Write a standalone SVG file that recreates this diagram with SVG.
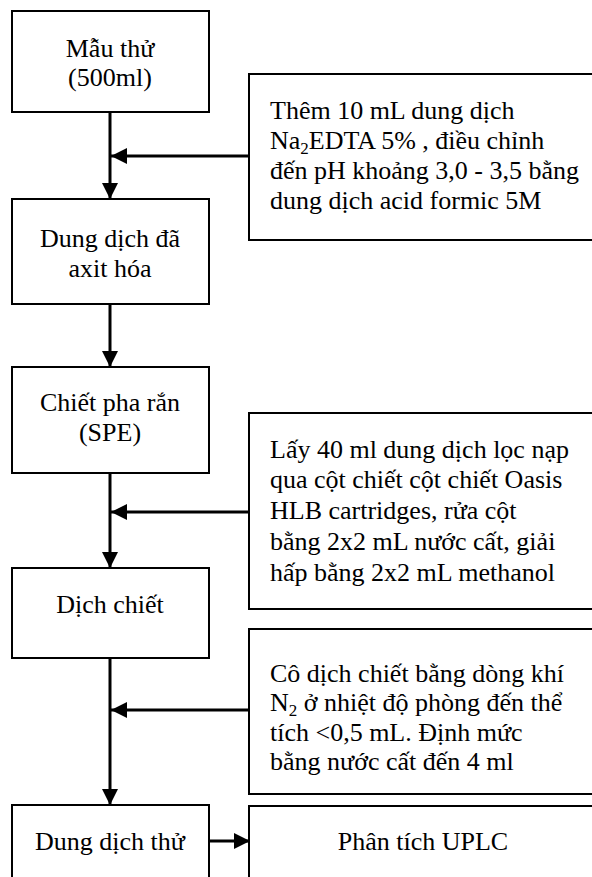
<svg xmlns="http://www.w3.org/2000/svg" width="592" height="877" viewBox="0 0 592 877">
<style>
.box{fill:#fff;stroke:#000;stroke-width:2}
.t{font-family:'Liberation Serif','Times New Roman','DejaVu Serif',serif;font-size:26px;fill:#000}
.c{text-anchor:middle}
.ln{stroke:#000;stroke-width:3;fill:none}
.sub{font-size:17px}
</style>
<defs>
<marker id="ah" markerUnits="userSpaceOnUse" markerWidth="16" markerHeight="16" viewBox="0 0 16 16" refX="16" refY="8" orient="auto">
<path d="M0,0 L16,8 L0,16 Z" fill="#000"/>
</marker>
</defs>
<g id="connectors">
<line class="ln" x1="110" y1="112" x2="110" y2="199" marker-end="url(#ah)"/>
<line class="ln" x1="255" y1="156" x2="111" y2="156" marker-end="url(#ah)"/>
<line class="ln" x1="110" y1="304" x2="110" y2="367" marker-end="url(#ah)"/>
<line class="ln" x1="110" y1="473" x2="110" y2="568" marker-end="url(#ah)"/>
<line class="ln" x1="255" y1="512" x2="111" y2="512" marker-end="url(#ah)"/>
<line class="ln" x1="110" y1="658" x2="110" y2="805" marker-end="url(#ah)"/>
<line class="ln" x1="255" y1="710" x2="111" y2="710" marker-end="url(#ah)"/>
<line class="ln" x1="208" y1="841" x2="250" y2="841" marker-end="url(#ah)"/>
</g>
<g class="t" font-family="Liberation Serif, Times New Roman, DejaVu Serif, serif" font-size="26">
<g id="n1"><rect class="box" x="12" y="11" width="197" height="101"/>
<text class="c" x="110" y="57">Mẫu thử</text><text class="c" x="110" y="86">(500ml)</text></g>
<g id="n2"><rect class="box" x="12" y="199" width="197" height="105"/>
<text class="c" x="110" y="247">Dung dịch đã</text><text class="c" x="110" y="277">axit hóa</text></g>
<g id="n3"><rect class="box" x="12" y="367" width="197" height="106"/>
<text class="c" x="110" y="411">Chiết pha rắn</text><text class="c" x="110" y="441">(SPE)</text></g>
<g id="n4"><rect class="box" x="12" y="568" width="197" height="90"/>
<text class="c" x="110" y="613">Dịch chiết</text></g>
<g id="n5"><rect class="box" x="12" y="805" width="197" height="90"/>
<text class="c" x="110" y="850">Dung dịch thử</text></g>
<g id="r1"><rect class="box" x="249" y="74" width="350" height="166"/>
<text x="270" y="119">Thêm 10 mL dung dịch</text>
<text x="270" y="149">Na<tspan class="sub" baseline-shift="-5">2</tspan>EDTA 5% , điều chỉnh</text>
<text x="270" y="179">đến pH khoảng 3,0 - 3,5 bằng</text>
<text x="270" y="209">dung dịch acid formic 5M</text></g>
<g id="r2"><rect class="box" x="249" y="413" width="350" height="196"/>
<text x="270" y="458">Lấy 40 ml dung dịch lọc nạp</text>
<text x="270" y="488">qua cột chiết cột chiết Oasis</text>
<text x="270" y="519">HLB cartridges, rửa cột</text>
<text x="270" y="550">bằng 2x2 mL nước cất, giải</text>
<text x="270" y="581">hấp bằng 2x2 mL methanol</text></g>
<g id="r3"><rect class="box" x="249" y="629" width="350" height="165"/>
<text x="270" y="682">Cô dịch chiết bằng dòng khí</text>
<text x="270" y="711">N<tspan class="sub" baseline-shift="-5">2</tspan> ở nhiệt độ phòng đến thể</text>
<text x="270" y="741">tích &lt;0,5 mL. Định mức</text>
<text x="270" y="770">bằng nước cất đến 4 ml</text></g>
<g id="r4"><rect class="box" x="249" y="806" width="350" height="90"/>
<text class="c" x="423" y="850">Phân tích UPLC</text></g>
</g>
</svg>
